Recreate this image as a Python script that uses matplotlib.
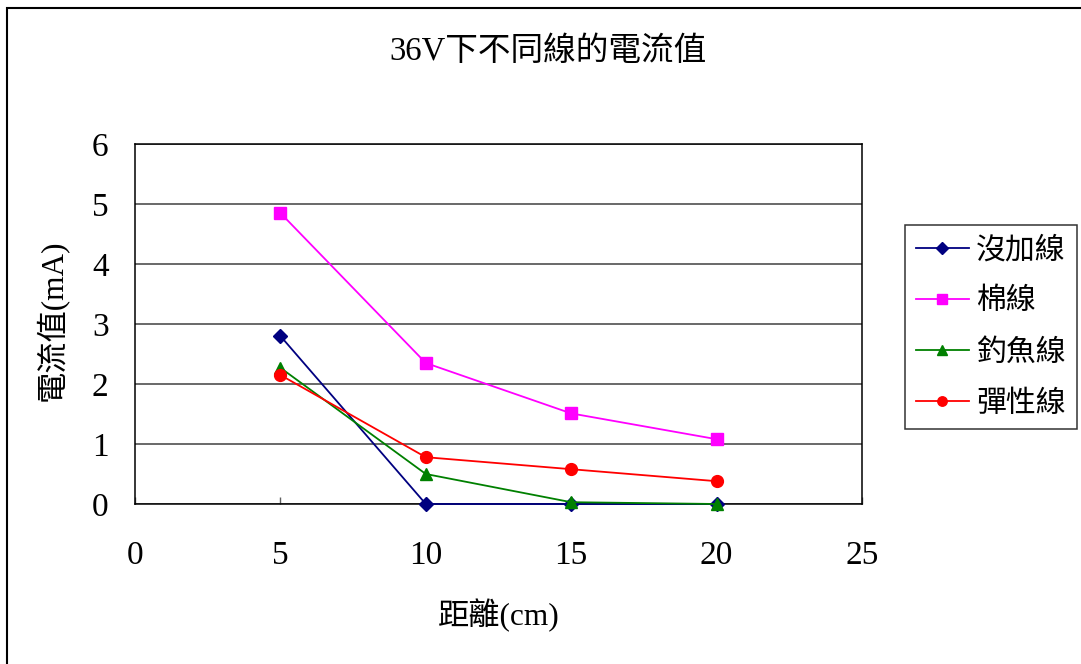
import matplotlib
matplotlib.use("Agg")
import matplotlib.pyplot as plt
from matplotlib.patches import Rectangle

plt.rcParams['font.family'] = ['Liberation Serif', 'Noto Sans CJK TC']

# distance (cm) and measured current (mA) for each thread
distance = [5, 10, 15, 20]
none_vals = [2.8, 0, 0, 0]
cotton_vals = [4.85, 2.35, 1.51, 1.08]
fishing_vals = [2.27, 0.5, 0.03, 0]
elastic_vals = [2.15, 0.78, 0.58, 0.38]

labels = ['沒加線', '棉線', '釣魚線', '彈性線']
x_ticks = [0, 5, 10, 15, 20, 25]
y_ticks = [0, 1, 2, 3, 4, 5, 6]

W, H = 1081, 664
fig = plt.figure(figsize=(W / 100, H / 100), dpi=100, facecolor='white')

# plot area in pixel coordinates
left, right, top, bottom = 135, 862, 144, 504
ax = fig.add_axes([left / W, 1 - bottom / H, (right - left) / W, (bottom - top) / H])

series = [
    (none_vals, '#000080', 'D', 7.5),
    (cotton_vals, '#FF00FF', 's', 8.5),
    (fishing_vals, '#008000', '^', 9),
    (elastic_vals, '#FF0000', 'o', 8.5),
]
for (vals, color, marker, ms), lab in zip(series, labels):
    ax.plot(distance, vals, color=color, marker=marker, markersize=ms,
            linewidth=1.3, label=lab, clip_on=False, zorder=3)

ax.set_xlim(0, 25)
ax.set_ylim(0, 6)
ax.set_xticks(x_ticks)
ax.set_yticks(y_ticks)
ax.yaxis.grid(True, color='#404040', linewidth=1.1)
ax.set_axisbelow(True)
for s in ax.spines.values():
    s.set_color('black')
    s.set_linewidth(1.1)

ax.tick_params(axis='x', direction='in', length=5, width=1, color='#606060',
               labelsize=24, pad=26)
ax.tick_params(axis='y', length=0, labelsize=24, pad=19)

fig.text(548 / W, 1 - 52 / H, '36V下不同線的電流值', ha='center', va='center',
         fontsize=23.5)
fig.text(499 / W, 1 - 615 / H, '距離(cm)', ha='center', va='center', fontsize=22.5)
fig.text(52 / W, 1 - 320 / H, '電流值(mA)', ha='center', va='center',
         rotation=90, fontsize=22.5)

leg = fig.legend(loc='upper left', bbox_to_anchor=(905 / W, 1 - 225 / H),
                 bbox_transform=fig.transFigure, fontsize=21.5, frameon=True,
                 fancybox=False, edgecolor='black', handlelength=1.75,
                 handletextpad=0.25, labelspacing=0.79, borderpad=0.38,
                 borderaxespad=0, markerscale=0.8)
leg.get_frame().set_linewidth(1.1)

# outer chart border
fig.add_artist(Rectangle((7 / W, -0.1), 1.2, 1 - 8 / H + 0.1,
                         transform=fig.transFigure, fill=False,
                         edgecolor='black', linewidth=1.5))

fig.savefig('out.png', dpi=100, facecolor='white')
